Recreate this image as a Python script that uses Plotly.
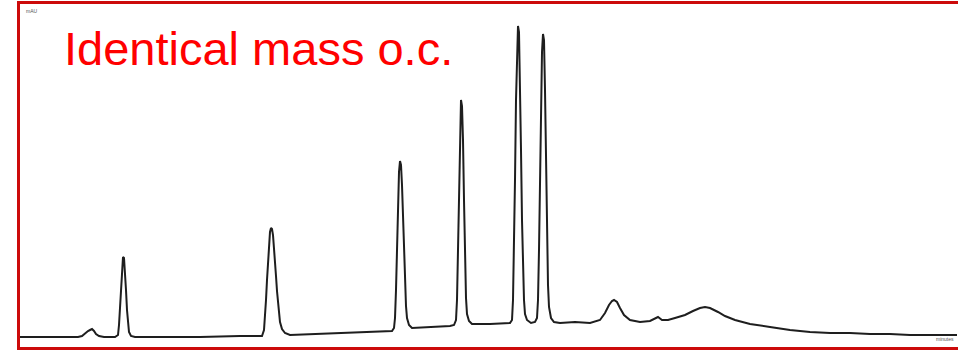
import plotly.graph_objects as go

# Retention time (min) and detector signal (arbitrary units)
time_min = [
    0.00, 1.00, 2.00, 2.90, 3.10, 3.25, 3.40, 3.50, 3.60, 3.70, 3.80, 3.95, 4.20,
    4.75, 4.90, 4.95, 5.00, 5.05, 5.10, 5.15, 5.20, 5.25, 5.30, 5.35, 5.40, 5.45, 5.55, 5.75,
    7.00, 9.00, 11.00, 12.10, 12.20, 12.25, 12.30, 12.35, 12.40, 12.45, 12.50, 12.55, 12.60,
    12.65, 12.70, 12.75, 12.80, 12.85, 12.90, 12.95, 13.00, 13.10, 13.25, 13.50,
    15.00, 16.50, 18.00, 18.60, 18.70, 18.75, 18.80, 18.85, 18.90, 18.95, 19.00, 19.05,
    19.10, 19.15, 19.20, 19.25, 19.30, 19.35, 19.45, 19.60,
    20.50, 21.50, 21.70, 21.80, 21.85, 21.90, 21.95, 22.00, 22.05, 22.10, 22.15, 22.20,
    22.25, 22.30, 22.35, 22.45, 22.60,
    23.50, 24.50, 24.60, 24.65, 24.70, 24.75, 24.80, 24.85, 24.90, 24.95, 25.00, 25.05,
    25.10, 25.15, 25.20, 25.25, 25.35, 25.55, 25.75, 25.85, 25.90, 25.95, 26.00, 26.05,
    26.10, 26.15, 26.20, 26.25, 26.30, 26.35, 26.40, 26.45, 26.55, 26.70,
    27.00, 27.75, 28.50, 29.00, 29.25, 29.45, 29.60, 29.70, 29.85, 30.00, 30.20, 30.50,
    31.00, 31.50, 31.75, 31.90, 32.10, 32.40, 32.75, 33.25, 33.65, 34.00, 34.25, 34.50,
    34.90, 35.25, 35.75, 36.50, 37.50, 38.50, 39.50, 40.50, 41.50, 42.50, 43.50, 44.50,
    45.50, 46.85,
]
signal = [
    10, 10, 10, 10, 11, 14, 16, 17, 18, 16, 13, 11, 10,
    10, 12, 22, 42, 62, 82, 90, 89, 77, 57, 37, 22, 15, 11, 10,
    10, 10, 11, 11, 17, 29, 47, 67, 87, 105, 115, 119, 118,
    112, 101, 87, 71, 56, 43, 32, 25, 18, 14, 12,
    13, 14, 15, 16, 19, 29, 57, 97, 142, 175, 186, 182,
    162, 132, 97, 64, 41, 29, 22, 19,
    20, 21, 22, 27, 47, 97, 167, 227, 247, 241, 207, 147,
    89, 49, 33, 26, 23,
    23, 24, 27, 47, 97, 167, 247, 297, 321, 315, 267, 197,
    127, 77, 47, 33, 27, 24, 25, 29, 47, 97, 177, 247,
    295, 313, 307, 257, 177, 107, 62, 40, 29, 25,
    24, 25, 24, 27, 34, 42, 46, 47, 45, 39, 32, 27,
    25, 26, 29, 30, 27, 27, 29, 32, 36, 39, 40, 39,
    35, 31, 27, 23, 20, 17, 15, 14, 14, 13, 13, 12,
    12, 12,
]

title_text = "Identical mass o.c."
y_unit_label = "mAU"
x_unit_label = "minutes"

fig = go.Figure()
fig.add_trace(go.Scatter(
    x=time_min, y=signal, mode="lines",
    line=dict(color="#1e1e1e", width=2),
    hoverinfo="skip", showlegend=False,
))

fig.update_layout(
    width=958, height=350,
    margin=dict(l=20, r=0, t=4, b=3),
    paper_bgcolor="white", plot_bgcolor="white",
    hovermode=False,
    xaxis=dict(range=[0, 46.9], showgrid=False, zeroline=False, showticklabels=False,
               ticks="", showline=True, linecolor="#cc0a0a", linewidth=3, mirror=True),
    yaxis=dict(range=[0, 343], showgrid=False, zeroline=False, showticklabels=False,
               ticks="", showline=True, linecolor="#cc0a0a", linewidth=3, mirror=False),
    annotations=[
        dict(text=title_text, xref="paper", yref="paper", x=0.0448, y=0.871,
             xanchor="left", yanchor="middle", showarrow=False,
             font=dict(family="Arial, Liberation Sans, sans-serif", size=47, color="#ff0000")),
        dict(text=y_unit_label, xref="paper", yref="paper", x=0.004, y=0.995,
             xanchor="left", yanchor="top", showarrow=False,
             font=dict(family="Arial, Liberation Sans, sans-serif", size=5, color="#555555")),
        dict(text=x_unit_label, xref="paper", yref="paper", x=0.998, y=0.008,
             xanchor="right", yanchor="bottom", showarrow=False,
             font=dict(family="Arial, Liberation Sans, sans-serif", size=5, color="#555555")),
    ],
)

fig.write_html("out.html", config={"displayModeBar": False},
               post_script="document.body.style.margin='0';")
